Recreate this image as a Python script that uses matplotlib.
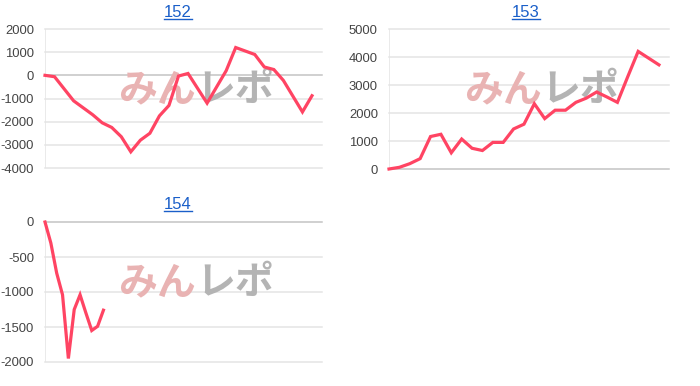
import matplotlib
matplotlib.use("Agg")
import matplotlib.pyplot as plt
from matplotlib.lines import Line2D

# ---- data ----
titles = ["152", "153", "154"]
values_152 = [0, -60, -580, -1100, -1400, -1700, -2050, -2250, -2650, -3300,
              -2800, -2500, -1750, -1300, -30, 80, -560, -1200, -500, 200,
              1200, 1050, 900, 360, 250, -220, -900, -1580, -880]
values_153 = [0, 60, 190, 370, 1160, 1240, 580, 1070, 740, 660,
              950, 950, 1430, 1600, 2330, 1800, 2100, 2100, 2380, 2530,
              2750, 2570, 2380, 3300, 4200, 3960, 3720]
values_154 = [0, -300, -730, -1040, -1950, -1250, -1040, -1300, -1550, -1490, -1260]
yticks_152 = [-4000, -3000, -2000, -1000, 0, 1000, 2000]
yticks_153 = [0, 1000, 2000, 3000, 4000, 5000]
yticks_154 = [-2000, -1500, -1000, -500, 0]

W, H = 700, 386
fig = plt.figure(figsize=(W / 100, H / 100), dpi=100)
fig.patch.set_facecolor("white")

LINE = "#ff4463"
GRID = "#e4e4e4"
BASE = "#c4c4c4"
TICK = "#444444"
LINK = "#1a5fc9"

def px_axes(l, t, r, b):
    return [l / W, 1 - b / H, (r - l) / W, (b - t) / H]

specs = [
    (px_axes(45, 29, 322, 168), values_152, yticks_152, 29.05, 178, 17),
    (px_axes(389, 29, 669, 169), values_153, yticks_153, 26.97, 526, 17),
    (px_axes(45, 222, 322, 362), values_154, yticks_154, 47.4, 178, 209),
]

title_texts = []
for (rect, vals, yt, xmax, tx, tbase), title in zip(specs, titles):
    ax = fig.add_axes(rect)
    ax.set_xlim(0, xmax)
    ax.set_ylim(yt[0], yt[-1])
    ax.set_yticks(yt)
    ax.set_yticklabels([str(v) for v in yt], fontsize=9.4, color=TICK,
                       family=["Liberation Sans", "DejaVu Sans"])
    ax.tick_params(axis="y", length=0, pad=8)
    ax.set_xticks([])
    for s in ax.spines.values():
        s.set_visible(False)
    for v in yt:
        ax.axhline(v, color=BASE if v == 0 else GRID, lw=1.1, zorder=0.5,
                   clip_on=False)
    ax.axvline(0, color=GRID, lw=1.1, zorder=0.5)
    # watermark
    ax.text(0.545, 0.565, "みん", transform=ax.transAxes, ha="right", va="center",
            fontsize=28, fontweight="bold", color="#e9b3b3",
            family=["Noto Sans CJK JP"], zorder=1)
    ax.text(0.545, 0.565, "レポ", transform=ax.transAxes, ha="left", va="center",
            fontsize=28, fontweight="bold", color="#b4b4b4",
            family=["Noto Sans CJK JP"], zorder=1)
    ax.plot(range(len(vals)), vals, color=LINE, lw=2.3, zorder=3,
            clip_on=False, solid_joinstyle="miter")
    t = fig.text(tx / W, 1 - tbase / H, title, ha="center", va="baseline",
                 fontsize=12, color=LINK, family=["Liberation Sans", "DejaVu Sans"])
    title_texts.append((t, tbase))

fig.canvas.draw()
r = fig.canvas.get_renderer()
for t, tbase in title_texts:
    bb = t.get_window_extent(r)
    y = 1 - (tbase + 1.8) / H
    fig.add_artist(Line2D([bb.x0 / W, bb.x1 / W], [y, y], color=LINK, lw=1.0))

fig.savefig("out.png", dpi=100, facecolor="white")
